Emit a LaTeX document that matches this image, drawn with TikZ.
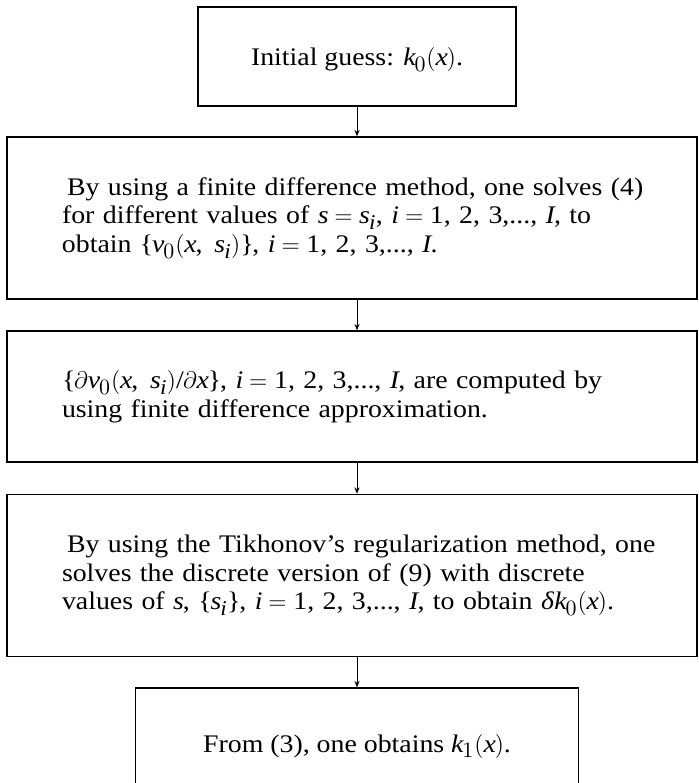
\documentclass[tikz,border=0pt]{standalone}
\usepackage{amsmath}
\usepackage{fontspec}
\setmainfont{Liberation Serif}[FakeStretch=1.1]
\usepackage[italic]{mathastext}
\usepackage{tikz}
\usetikzlibrary{positioning, arrows.meta}

\begin{document}
\begin{tikzpicture}[
  x=0.5pt, y=-0.5pt,
  stepbox/.style={draw, line width=0.75pt, minimum width=345pt,
                  minimum height=81pt, text width=290pt, align=left,
                  inner sep=0pt, font=\fontsize{12.65}{14.25}\selectfont},
  smallbox/.style={stepbox, text width=, align=center, minimum height=49.5pt,
                   text height=10.5pt, text depth=1.5pt},
  flow/.style={line width=0.5pt, -{Stealth[length=3.2pt, width=2.6pt]}},
]
  \useasboundingbox (0,0) rectangle (699,783);
  \clip (0,0) rectangle (699,783);

  \node[smallbox, minimum width=159pt] (init) at (357,56.5)
    {Initial guess: $k_0(x)$.};
  \node[stepbox] (fdm) at (352,218) {
    \mbox{\hspace{2.5pt}By using a finite difference method, one solves (4)}\\
    \mbox{for different values of $s=s_i$, $i={}$1, 2, 3,..., $I$, to}\\
    \mbox{obtain $\{v_0(x,\ s_i)\}$, $i={}$1, 2, 3,..., $I$.}
  };
  \node[stepbox, minimum height=65.5pt] (deriv) at (352,396.5) {
    \mbox{$\{\partial v_0(x,\ s_i)/\partial x\}$, $i={}$1, 2, 3,..., $I$, are computed by}\\
    \mbox{using finite difference approximation.}
  };
  \node[stepbox] (tikh) at (352,575.5) {
    \mbox{\hspace{2.5pt}By using the Tikhonov's regularization method, one}\\
    \mbox{solves the discrete version of (9) with discrete}\\
    \mbox{values of $s$, $\{s_i\}$, $i={}$1, 2, 3,..., $I$, to obtain \textit{δ}$k_0(x)$.}
  };
  \node[smallbox, minimum width=221.5pt, minimum height=55pt] (update) at (357,743)
    {From (3), one obtains $k_1(x)$.};

  % arrows between the steps
  \draw[flow] (init.south) -- (init.south |- fdm.north);
  \draw[flow] (fdm.south -| init.south) -- (deriv.north -| init.south);
  \draw[flow] (deriv.south -| init.south) -- (tikh.north -| init.south);
  \draw[flow] (tikh.south -| init.south) -- (update.north);
\end{tikzpicture}
\end{document}
